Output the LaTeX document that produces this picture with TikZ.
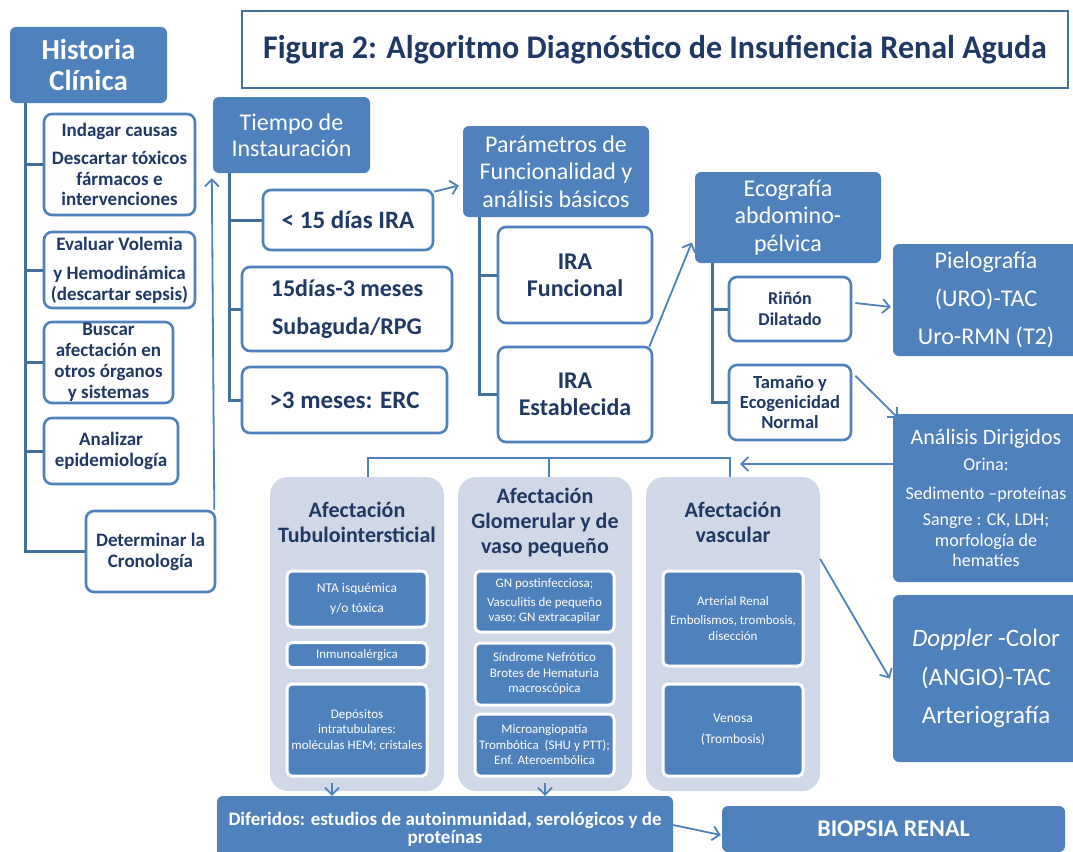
\documentclass[tikz,border=0pt]{standalone}
\usepackage{fontspec}
\setmainfont{Carlito}
\usetikzlibrary{arrows.meta,calc}
\definecolor{bf}{HTML}{4F81BD}
\definecolor{tl}{HTML}{41719C}
\definecolor{nv}{HTML}{1F3864}
\definecolor{gf}{HTML}{D0D8E8}
\newcommand{\fs}[2]{\fontsize{#1}{#2}\selectfont}
\begin{document}
\begin{tikzpicture}[x=1pt,y=-1pt,
  sz/.style 2 args={minimum width=#1pt, minimum height=#2pt},
  head/.style={rectangle, rounded corners=6pt, fill=bf, text=white, align=center, inner sep=0pt},
  wbox/.style={rectangle, rounded corners=8pt, fill=white, draw=bf, line width=2.6pt, text=nv, align=center, inner sep=0pt, font=\bfseries},
  gbox/.style={rectangle, rounded corners=18pt, fill=gf, inner sep=0pt},
  gtitle/.style={text=nv, align=center, inner sep=0pt, font=\fs{22}{25}\bfseries},
  ibox/.style={rectangle, rounded corners=5pt, fill=bf, draw=white, line width=3pt, text=white, align=center, inner sep=0pt, font=\fs{13}{15.5}},
  tree/.style={draw=tl, line width=3pt},
  arr/.style={draw=bf, line width=1.8pt, -{Straight Barb[length=7pt,width=14pt,line width=1.8pt]}},
  link/.style={draw=bf, line width=2pt},
  ]
\useasboundingbox (0,0) rectangle (1073,851);
\fill[white] (0,0) rectangle (1073,851);
\clip (0,0) rectangle (1073,851);

% title
\node[draw=tl, line width=1.2pt, sz={826}{77}, inner sep=0pt, text=nv] (title) at (655,49.5)
  {\scalebox{0.97}[1]{\fs{33}{36}\bfseries Figura 2: Algoritmo Diagnóstico de Insufiencia Renal Aguda}};

% Historia clinica
\node[head, sz={157}{76}, font=\fs{29}{31}\bfseries] (hist) at (88.5,65) {Historia\\Clínica};
\node[wbox, sz={151}{101}, font=\fs{19}{20.5}\bfseries] (h1) at (119.5,164.5) {Indagar causas\\[8pt]Descartar tóxicos\\fármacos e\\intervenciones};
\node[wbox, sz={151}{76}, font=\fs{19}{21}\bfseries] (h2) at (119.5,270) {Evaluar Volemia\\[8pt]y Hemodinámica\\(descartar sepsis)};
\node[wbox, sz={129}{81}, font=\fs{19}{21}\bfseries] (h3) at (108.5,362.5) {Buscar\\afectación en\\otros órganos\\y sistemas};
\node[wbox, sz={134}{66}, font=\fs{19}{20.5}\bfseries] (h4) at (111,451) {Analizar\\epidemiología};
\node[wbox, sz={129}{81}, font=\fs{19}{21}\bfseries] (h5) at (150.5,551.5) {Determinar la\\Cronología};
\coordinate (ht) at (25,103);
\draw[tree] (ht) |- (h5.west);
\draw[tree] (ht |- h1.west) -- (h1.west);
\draw[tree] (ht |- h2.west) -- (h2.west);
\draw[tree] (ht |- h3.west) -- (h3.west);
\draw[tree] (ht |- h4.west) -- (h4.west);

% Tiempo de instauracion
\node[head, sz={157}{76}, font=\fs{24}{26}] (tiem) at (291.5,135) {Tiempo de\\Instauración};
\node[wbox, sz={170}{60}, font=\fs{25}{28}\bfseries] (t1) at (348,220) {< 15 días IRA};
\node[wbox, sz={210}{84}, font=\fs{24}{29}\bfseries] (t2) at (347,309) {15días-3 meses\\[9pt]Subaguda/RPG};
\node[wbox, sz={205}{66}, font=\fs{25}{28}\bfseries] (t3) at (344.5,400) {>3 meses: ERC};
\coordinate (tt) at (229,173);
\draw[tree] (tt) |- (t3.west);
\draw[tree] (tt |- t1.west) -- (t1.west);
\draw[tree] (tt |- t2.west) -- (t2.west);
\draw[arr] ([xshift=-2pt]h5.north east) -- ([xshift=-1pt,yshift=-5pt]tiem.south west);

% Parametros
\node[head, sz={186}{91}, font=\fs{24}{27.5}] (par) at (556,171.5) {Parámetros de\\Funcionalidad y\\análisis básicos};
\node[wbox, sz={154}{96}, font=\fs{24}{27}\bfseries] (f1) at (575,275) {IRA\\Funcional};
\node[wbox, sz={154}{95}, font=\fs{24}{27}\bfseries] (f2) at (575,394.5) {IRA\\Establecida};
\coordinate (pt) at (479,217);
\draw[tree] (pt) |- (f2.west);
\draw[tree] (pt |- f1.west) -- (f1.west);
\draw[arr] ([yshift=-3pt]t1.north east) -- ([xshift=-4pt,yshift=-14pt]par.west);

% Ecografia
\node[head, sz={186}{91}, font=\fs{24}{27.5}] (eco) at (788,217.5) {Ecografía\\abdomino-\\pélvica};
\node[wbox, sz={122}{64}, font=\fs{18}{21}\bfseries] (e1) at (790,309) {Riñón\\Dilatado};
\node[wbox, sz={122}{75}, font=\fs{18.5}{20}\bfseries] (e2) at (790,402.5) {Tamaño y\\Ecogenicidad\\Normal};
\coordinate (et) at (712,263);
\draw[tree] (et) |- (e2.west);
\draw[tree] (et |- e1.west) -- (e1.west);
\draw[arr] ([xshift=-4pt,yshift=-1pt]f2.north east) -- ([xshift=-3pt,yshift=-25pt]eco.west);

% right column
\node[head, sz={186}{112}, font=\fs{24}{38}] (pie) at (986,300) {Pielografía\\(URO)-TAC\\Uro-RMN (T2)};
\node[head, sz={186}{168}, font=\fs{18}{20.5}] (ana) at (986,498) {{\fs{22}{24}Análisis Dirigidos}\\[6pt]Orina:\\[8pt]Sedimento –proteínas\\[6pt]Sangre : CK, LDH;\\morfología de\\hematíes};
\node[head, sz={186}{167}, font=\fs{25}{38.5}] (dop) at (986,678.5) {\textit{Doppler} -Color\\(ANGIO)-TAC\\Arteriografía};
\draw[arr] ([xshift=3pt,yshift=6pt]e1.east) -- ([xshift=-2pt,yshift=-7pt]pie.west);
\draw[arr] ([xshift=3pt,yshift=-12pt]e2.north east) -- ([xshift=5pt,yshift=-4pt]ana.north west);

% gray groups
\node[gbox, sz={174}{314}] (gA) at (357,634) {};
\node[gbox, sz={174}{314}] (gB) at (545,634) {};
\node[gbox, sz={174}{314}] (gC) at (733,634) {};
\node[gtitle] (gAt) at (357,522) {Afectación\\Tubulointersticial};
\node[gtitle] (gBt) at (545,523) {Afectación\\Glomerular y de\\vaso pequeño};
\node[gtitle] (gCt) at (733,522) {Afectación\\vascular};

\node[ibox, sz={140}{56}, font=\fs{13.5}{17}] (a1) at (357,599) {NTA isquémica\\[3pt]y/o tóxica};
\node[ibox, sz={140}{25}] (a2) at (357,655) {Inmunoalérgica};
\node[ibox, sz={140}{92}] (a3) at (357,730) {Depósitos\\intratubulares:\\moléculas HEM; cristales};
\node[ibox, sz={139}{61}, font=\fs{13}{15}] (b1) at (544.5,601.5) {GN postinfecciosa;\\[4pt]Vasculitis de pequeño\\vaso; GN extracapilar};
\node[ibox, sz={139}{62}] (b2) at (544.5,674) {Síndrome Nefrótico\\Brotes de Hematuria\\macroscópica};
\node[ibox, sz={139}{62}] (b3) at (544.5,745) {Microangiopatía\\Trombótica\ \ (SHU y PTT);\\Enf. Ateroembólica};
\node[ibox, sz={140}{95}, font=\fs{13}{15.5}] (c1) at (733,618.5) {Arterial Renal\\[4pt]Embolismos, trombosis,\\disección};
\node[ibox, sz={140}{92}, font=\fs{13.5}{17}] (c2) at (733,730) {Venosa\\[4pt](Trombosis)};

\coordinate (bus) at (740,464);
\draw[link] ([xshift=11pt]gA.north) -- ++(0,-19) -| ([xshift=-3pt]gC.north);
\draw[link] ([xshift=4pt]gB.north) -- ++(0,-19);
\draw[arr] (ana.west |- bus) -- (bus);
\draw[arr] ([yshift=-2pt]gC.east |- 0,557) -- ([xshift=-3pt]dop.west);

% bottom
\node[head, sz={456}{66}, font=\fs{19}{18}\bfseries] (dif) at (445,829) {Diferidos: estudios de autoinmunidad, serológicos y de\\proteínas};
\node[head, sz={343}{46}, font=\fs{24}{26}\bfseries] (bio) at (893.5,829) {BIOPSIA RENAL};
\draw[arr] ([xshift=-25pt,yshift=8pt]gA.south) -- ([xshift=-25pt]gA.south |- dif.north);
\draw[arr] ([yshift=8pt]gB.south) -- (gB.south |- dif.north);
\draw[arr] ([yshift=4pt]dif.east) -- ([xshift=-1pt,yshift=-6pt]bio.west);
\end{tikzpicture}
\end{document}
